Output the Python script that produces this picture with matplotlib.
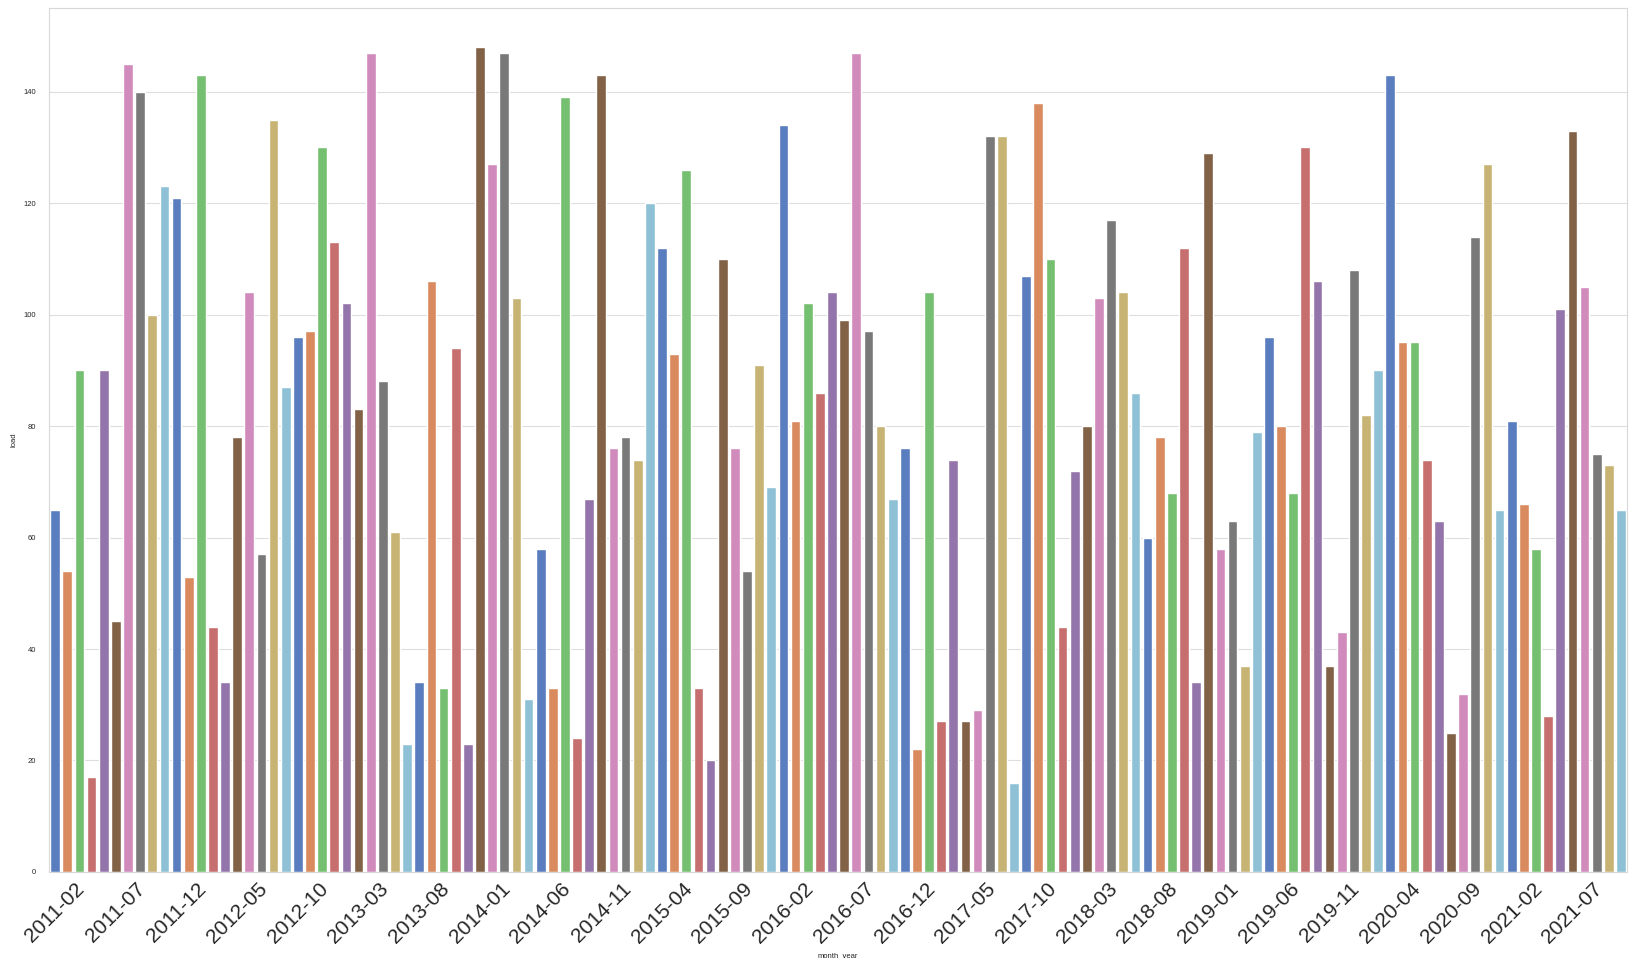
import pandas as pd
import matplotlib
matplotlib.use("Agg")
import matplotlib.pyplot as plt
import seaborn as sns

# monthly load, 2011-02 .. 2021-11
month_year = pd.period_range("2011-02", "2021-11", freq="M").strftime("%Y-%m").tolist()
load = [
    65, 54, 90, 17, 90, 45, 145, 140, 100, 123,
    121, 53, 143, 44, 34, 78, 104, 57, 135, 87,
    96, 97, 130, 113, 102, 83, 147, 88, 61, 23,
    34, 106, 33, 94, 23, 148, 127, 147, 103, 31,
    58, 33, 139, 24, 67, 143, 76, 78, 74, 120,
    112, 93, 126, 33, 20, 110, 76, 54, 91, 69,
    134, 81, 102, 86, 104, 99, 147, 97, 80, 67,
    76, 22, 104, 27, 74, 27, 29, 132, 132, 16,
    107, 138, 110, 44, 72, 80, 103, 117, 104, 86,
    60, 78, 68, 112, 34, 129, 58, 63, 37, 79,
    96, 80, 68, 130, 106, 37, 43, 108, 82, 90,
    143, 95, 95, 74, 63, 25, 32, 114, 127, 65,
    81, 66, 58, 28, 101, 133, 105, 75, 73, 65,
]
tick_step = 5

df = pd.DataFrame({"month_year": month_year, "load": load})

sns.set_style("whitegrid", {"grid.color": "#dedede", "axes.edgecolor": "#d8d8d8"})
plt.rcParams["font.family"] = ["Liberation Sans", "DejaVu Sans"]

fig, ax = plt.subplots(figsize=(16.36, 9.58), dpi=100)
fig.subplots_adjust(left=0.030, right=0.9945, bottom=0.0898, top=0.9916)

sns.barplot(data=df, x="month_year", y="load", hue="month_year",
            palette=sns.color_palette("muted", len(df)), legend=False, ax=ax)

ax.set_xticks(range(0, len(df), tick_step))
ax.set_xticklabels(month_year[::tick_step], rotation=45, ha="center", fontsize=15)
ax.tick_params(axis="y", labelsize=5.5, pad=6)
ax.tick_params(axis="x", pad=2)
ax.set_ylabel("load", fontsize=5.5)
ax.set_xlabel("month_year", fontsize=5.5)
ax.set_ylim(0, 155)

fig.savefig("out.png", dpi=100)
